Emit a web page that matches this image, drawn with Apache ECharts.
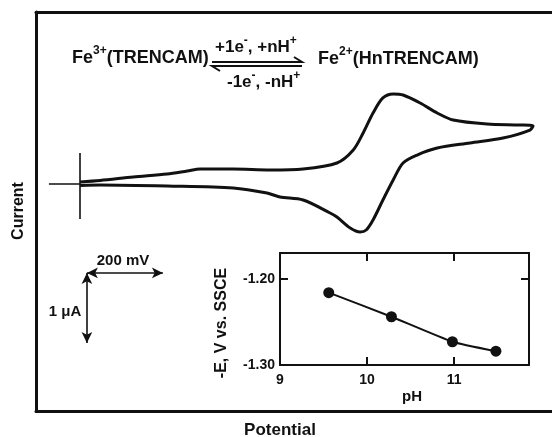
<!DOCTYPE html>
<html>
<head>
<meta charset="utf-8">
<script src="https://cdn.jsdelivr.net/npm/echarts@6/dist/echarts.min.js"></script>
<style>
html, body { margin: 0; padding: 0; background: #fff; }
#chart { width: 552px; height: 437px; }
</style>
</head>
<body>
<div id="chart"></div>
<script>
// cyclic voltammogram, potential in mV from the start point, current in uA
var cvPotential = [0, 53, 140, 229, 282, 316, 403, 500, 587, 676, 719, 745, 771, 797, 824, 850, 895, 940, 982, 1071,
  1158, 1192, 1184, 1113, 1026, 940, 887, 850, 824, 797, 771, 753, 737, 711, 676, 658, 587, 526, 492, 403, 229, 53, 0];
var cvCurrent = [0.03, 0.05, 0.10, 0.143, 0.186, 0.214, 0.214, 0.20, 0.214, 0.30, 0.486, 0.729, 1.014, 1.229, 1.286, 1.271, 1.157, 1.014, 0.914, 0.857,
  0.843, 0.829, 0.771, 0.657, 0.586, 0.514, 0.414, 0.30, 0.057, -0.229, -0.514, -0.657, -0.686, -0.629, -0.471, -0.414, -0.229, -0.186, -0.129, -0.057, -0.029, -0.014, -0.02];

// inset: E1/2 against pH
var phValues = [9.56, 10.28, 10.98, 11.48];
var eValues = [-1.216, -1.244, -1.273, -1.284];
var insetYTicks = [-1.30, -1.20];

// start marker and scale bars (mV, uA)
var startMarkV = [0.443, -0.5];
var startMarkH = [-82, 0];
var scaleOrigin = [18, -1.27];
var scaleMv = 200;
var scaleUa = 1;

var ink = '#111';
var font = 'Liberation Sans';

var cvData = [];
for (var i = 0; i < cvPotential.length; i++) {
  cvData.push([cvPotential[i], cvCurrent[i]]);
}
var insetData = [];
for (var j = 0; j < phValues.length; j++) {
  insetData.push([phValues[j], eValues[j]]);
}

function frameAxis(grid, pos, w) {
  return {
    type: 'value', gridIndex: grid, position: pos,
    axisLine: { show: true, onZero: false, lineStyle: { color: ink, width: w } },
    axisTick: { show: false }, axisLabel: { show: false }, splitLine: { show: false }
  };
}

var mainX = frameAxis(0, 'bottom', 3); mainX.min = -116; mainX.max = 1242;
var mainXTop = frameAxis(0, 'top', 3); mainXTop.min = -116; mainXTop.max = 1242;
var mainY = frameAxis(0, 'left', 3); mainY.min = -3.243; mainY.max = 2.457;

function insetAxis(pos, labels) {
  return {
    type: 'value', gridIndex: 1, position: pos,
    axisLine: { show: true, onZero: false, lineStyle: { color: ink, width: 2 } },
    axisTick: { show: true, inside: true, length: 8, lineStyle: { color: ink, width: 2 } },
    axisLabel: { show: labels, color: ink, fontFamily: font, fontWeight: 'bold', fontSize: 14, showMaxLabel: false },
    splitLine: { show: false }
  };
}
var inX = insetAxis('bottom', true); inX.min = 9; inX.max = 11.86; inX.interval = 1;
inX.axisLabel.margin = 8;
var inXTop = insetAxis('top', false); inXTop.min = 9; inXTop.max = 11.86; inXTop.interval = 1;
var inY = insetAxis('left', true); inY.min = insetYTicks[0]; inY.max = -1.17; inY.interval = 0.1;
inY.axisLabel.margin = 5;
inY.axisLabel.formatter = function (v) { return v.toFixed(2); };
var inYRight = insetAxis('right', false); inYRight.min = insetYTicks[0]; inYRight.max = -1.17; inYRight.interval = 0.1;

var richTxt = {
  m: { fontFamily: font, fontWeight: 'bold', fontSize: 18, color: ink, lineHeight: 22, verticalAlign: 'bottom' },
  s: { fontFamily: font, fontWeight: 'bold', fontSize: 12, color: ink, lineHeight: 22, verticalAlign: 'top' },
  n: { fontFamily: font, fontWeight: 'bold', fontSize: 17, color: ink, lineHeight: 21, verticalAlign: 'bottom' },
  t: { fontFamily: font, fontWeight: 'bold', fontSize: 12, color: ink, lineHeight: 21, verticalAlign: 'top' }
};

function txt(x, y, text, size, rot, align) {
  return {
    type: 'text', x: x, y: y, rotation: rot || 0,
    style: {
      text: text, fill: ink, font: 'bold ' + size + 'px ' + font,
      align: align || 'center', verticalAlign: 'middle', textAlign: align || 'center', textVerticalAlign: 'middle'
    }
  };
}
function richText(x, y, text) {
  return {
    type: 'text', x: x, y: y,
    style: { text: text, rich: richTxt, fill: ink, align: 'left', verticalAlign: 'middle', textAlign: 'left', textVerticalAlign: 'middle' }
  };
}
function seg(pts, w) {
  return { type: 'polyline', shape: { points: pts }, style: { stroke: ink, lineWidth: w, fill: null } };
}

var chart = echarts.init(document.getElementById('chart'), null, { renderer: 'canvas' });
chart.setOption({
  animation: false,
  backgroundColor: '#fff',
  grid: [
    { left: 36, top: 12, width: 516, height: 399 },
    { left: 280, top: 253, width: 249, height: 112 }
  ],
  xAxis: [mainX, mainXTop, inX, inXTop],
  yAxis: [mainY, inY, inYRight],
  series: [
    {
      type: 'line', xAxisIndex: 0, yAxisIndex: 0, data: cvData,
      showSymbol: false, symbol: 'none', smooth: 0.3,
      lineStyle: { color: ink, width: 3 }, silent: true,
      markLine: {
        silent: true, animation: false,
        label: { show: false },
        data: [
          [{ coord: [0, startMarkV[0]], symbol: 'none' }, { coord: [0, startMarkV[1]], symbol: 'none' }],
          [{ coord: [startMarkH[0], 0], symbol: 'none' }, { coord: [startMarkH[1], 0], symbol: 'none' }],
          [{ coord: [scaleOrigin[0], scaleOrigin[1]], symbol: 'arrow', symbolSize: [8, 11] },
           { coord: [scaleOrigin[0] + scaleMv, scaleOrigin[1]], symbol: 'arrow', symbolSize: [8, 11] }],
          [{ coord: [scaleOrigin[0], scaleOrigin[1]], symbol: 'arrow', symbolSize: [8, 11] },
           { coord: [scaleOrigin[0], scaleOrigin[1] - scaleUa], symbol: 'arrow', symbolSize: [8, 11] }]
        ],
        lineStyle: { color: ink, width: 1.6, type: 'solid' },
        emphasis: { disabled: true }
      }
    },
    {
      type: 'line', xAxisIndex: 2, yAxisIndex: 1, data: insetData,
      symbol: 'circle', symbolSize: 11, smooth: 0.15,
      itemStyle: { color: ink }, lineStyle: { color: ink, width: 2 }, silent: true
    }
  ],
  graphic: [
    txt(19, 211, 'Current', 16, Math.PI / 2),
    txt(280, 430, 'Potential', 17, 0),
    txt(123, 261, '200 mV', 15, 0),
    txt(65, 312, '1 \u03bcA', 15, 0),
    txt(222, 323, '-E, V vs. SSCE', 16, Math.PI / 2),
    txt(412, 397, 'pH', 15, 0),
    richText(72, 56, '{m|Fe}{s|3+}{m|(TRENCAM)}'),
    richText(318, 57, '{m|Fe}{s|2+}{m|(HnTRENCAM)}'),
    richText(215, 45, '{n|+1e}{t|-}{n|, +nH}{t|+}'),
    richText(227, 80, '{n|-1e}{t|-}{n|, -nH}{t|+}'),
    seg([[212, 62], [302, 62], [294, 57]], 2),
    seg([[220, 71], [212, 66], [302, 66]], 2)
  ]
});
</script>
</body>
</html>
